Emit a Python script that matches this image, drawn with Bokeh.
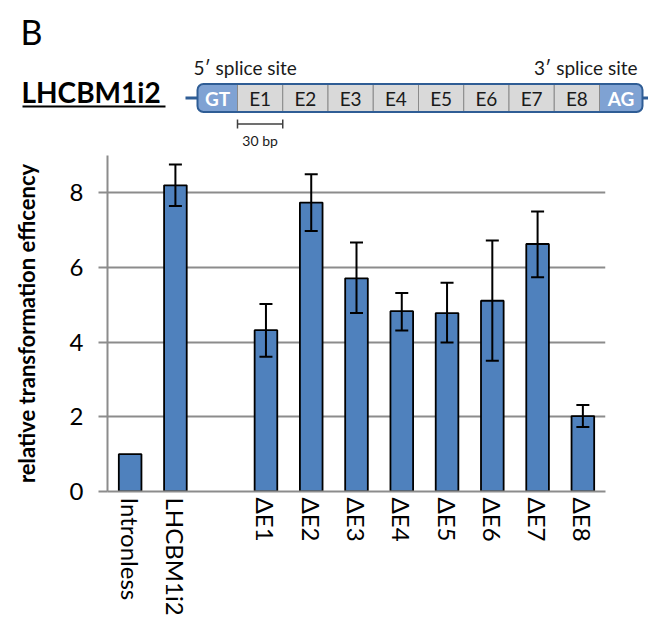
from bokeh.plotting import figure
from bokeh.models import ColumnDataSource, FactorRange, Range1d, FixedTicker, Whisker, TeeHead
from bokeh.layouts import column
from bokeh.core.properties import value
from bokeh.embed import file_html
from bokeh.resources import INLINE

# ---------------- data ----------------
categories = ["Intronless", "LHCBM1i2", " ", "ΔE1", "ΔE2", "ΔE3", "ΔE4",
              "ΔE5", "ΔE6", "ΔE7", "ΔE8"]
bar_labels = ["Intronless", "LHCBM1i2", "ΔE1", "ΔE2", "ΔE3", "ΔE4",
              "ΔE5", "ΔE6", "ΔE7", "ΔE8"]
values = [1.0, 8.2, 4.32, 7.74, 5.71, 4.83, 4.78, 5.11, 6.63, 2.02]
err_labels = ["LHCBM1i2", "ΔE1", "ΔE2", "ΔE3", "ΔE4", "ΔE5", "ΔE6", "ΔE7", "ΔE8"]
err_high = [8.76, 5.02, 8.50, 6.67, 5.32, 5.59, 6.72, 7.50, 2.32]
err_low = [7.65, 3.61, 6.98, 4.78, 4.31, 3.99, 3.50, 5.74, 1.73]
y_ticks = [0, 2, 4, 6, 8]

panel_letter = "B"
construct_name = "LHCBM1i2"
segment_labels = ["GT", "E1", "E2", "E3", "E4", "E5", "E6", "E7", "E8", "AG"]
site_labels = ["5\u2032 splice site", "3\u2032 splice site"]
scale_label = "30 bp"
y_title = "relative transformation efficency"

FONT = "Lato"
BAR = "#4f81bd"
GRID = "#8c8c8c"
DARKBLUE = "#2f5d95"
LIGHTBLUE = "#7fa2d3"
EXON = "#d9d9d9"

# ---------------- top panel (gene diagram) ----------------
W = 648
TOP_H = 155
top = figure(width=W, height=TOP_H, x_range=Range1d(0, W), y_range=Range1d(TOP_H, 0),
             output_backend="svg", toolbar_location=None, min_border=0)
top.frame_align = False
top.axis.visible = False
top.grid.visible = False
top.outline_line_color = None

box_left, box_right = 197.0, 642.0
box_top, box_bot = 83.5, 111.5
mid_y = (box_top + box_bot) / 2
gt_w, ag_w = 40.0, 43.0
exon_w = (box_right - box_left - gt_w - ag_w) / 8

lefts, rights = [], []
x = box_left
for lab in segment_labels:
    w = gt_w if lab == "GT" else (ag_w if lab == "AG" else exon_w)
    lefts.append(x)
    rights.append(x + w)
    x += w

# backbone line
top.segment(x0=[185], y0=[mid_y], x1=[W], y1=[mid_y], line_color=DARKBLUE, line_width=3)
# outer rounded box with light blue fill
top.quad(left=[box_left], right=[box_right], top=[box_top], bottom=[box_bot],
         fill_color=LIGHTBLUE, line_color=None, border_radius=6)
# exon cells
ex_idx = [i for i, l in enumerate(segment_labels) if l not in ("GT", "AG")]
top.quad(left=[lefts[i] for i in ex_idx], right=[rights[i] for i in ex_idx],
         top=[box_top] * len(ex_idx), bottom=[box_bot] * len(ex_idx),
         fill_color=EXON, line_color="#8a8a8a", line_width=1)
# outline
top.quad(left=[box_left], right=[box_right], top=[box_top], bottom=[box_bot],
         fill_color=None, line_color=DARKBLUE, line_width=2, border_radius=6)

centers = [(a + b) / 2 for a, b in zip(lefts, rights)]
ex_src = ColumnDataSource(dict(x=[centers[i] for i in ex_idx], y=[mid_y] * len(ex_idx),
                               t=[segment_labels[i] for i in ex_idx]))
top.text(x="x", y="y", text="t", source=ex_src, text_font=value(FONT), text_font_size="19px",
         text_color="#1a1a1a", text_align="center", text_baseline="middle")
ss_idx = [i for i, l in enumerate(segment_labels) if l in ("GT", "AG")]
ss_src = ColumnDataSource(dict(x=[centers[i] for i in ss_idx], y=[mid_y] * len(ss_idx),
                               t=[segment_labels[i] for i in ss_idx]))
top.text(x="x", y="y", text="t", source=ss_src, text_font=value(FONT), text_font_size="19px",
         text_font_style="bold", text_color="white", text_align="center", text_baseline="middle")

# splice site labels
top.text(x=[193], y=[67], text=[site_labels[0]], text_font=value(FONT), text_font_size="19px",
         text_color="#1a1a1a", text_align="left", text_baseline="middle")
top.text(x=[637], y=[67], text=[site_labels[1]], text_font=value(FONT), text_font_size="19px",
         text_color="#1a1a1a", text_align="right", text_baseline="middle")

# panel letter and construct name
top.text(x=[20], y=[31], text=[panel_letter], text_font=value(FONT), text_font_size="34px",
         text_color="black", text_align="left", text_baseline="middle")
top.text(x=[21], y=[91], text=[construct_name], text_font=value(FONT), text_font_size="28px",
         text_font_style="bold", text_color="black", text_align="left", text_baseline="middle")
top.segment(x0=[22], y0=[106], x1=[165], y1=[106], line_color="black", line_width=2)

# scale bar (width of one exon cell)
sb_l, sb_r = lefts[1], rights[1]
top.segment(x0=[sb_l], y0=[123.5], x1=[sb_r], y1=[123.5], line_color="#404040", line_width=1.5)
top.segment(x0=[sb_l, sb_r], y0=[119, 119], x1=[sb_l, sb_r], y1=[128, 128],
            line_color="#404040", line_width=1.5)
top.text(x=[(sb_l + sb_r) / 2], y=[140], text=[scale_label], text_font=value(FONT),
         text_font_size="14px", text_color="#1a1a1a", text_align="center", text_baseline="middle")

# ---------------- bar chart ----------------
p = figure(width=W, height=620 - TOP_H, x_range=FactorRange(*categories), y_range=Range1d(0, 9),
           output_backend="svg", toolbar_location=None,
           min_border_left=107, min_border_right=43, min_border_top=0, min_border_bottom=129)
p.frame_align = False
p.outline_line_color = None
p.background_fill_color = "white"

src = ColumnDataSource(dict(x=bar_labels, top=values))
p.vbar(x="x", top="top", bottom=0, width=0.5, source=src, fill_color=BAR,
       line_color="black", line_width=1.8)

esrc = ColumnDataSource(dict(x=err_labels, upper=err_high, lower=err_low))
wh = Whisker(base="x", upper="upper", lower="lower", source=esrc, level="overlay",
             line_color="black", line_width=2,
             upper_head=TeeHead(size=13, line_color="black", line_width=2),
             lower_head=TeeHead(size=13, line_color="black", line_width=2))
p.add_layout(wh)

p.xgrid.grid_line_color = None
p.ygrid.ticker = FixedTicker(ticks=y_ticks)
p.ygrid.grid_line_color = GRID
p.ygrid.grid_line_width = 2
p.ygrid.level = "underlay"

p.yaxis.ticker = FixedTicker(ticks=y_ticks)
p.yaxis.axis_line_color = GRID
p.yaxis.axis_line_width = 2
p.yaxis.major_tick_line_color = GRID
p.yaxis.major_tick_line_width = 2
p.yaxis.major_tick_out = 9
p.yaxis.major_tick_in = 0
p.yaxis.minor_tick_line_color = None
p.yaxis.major_label_standoff = 15
p.yaxis.major_label_text_font = FONT
p.yaxis.major_label_text_font_size = "24px"
p.yaxis.major_label_text_color = "black"
p.yaxis.axis_label = y_title
p.yaxis.axis_label_text_font = FONT
p.yaxis.axis_label_text_font_size = "22px"
p.yaxis.axis_label_text_font_style = "bold"
p.yaxis.axis_label_text_color = "black"
p.yaxis.axis_label_standoff = 27

p.xaxis.axis_line_color = GRID
p.xaxis.axis_line_width = 2
p.xaxis.major_tick_line_color = None
p.xaxis.major_tick_out = 0
p.xaxis.major_tick_in = 0
p.xaxis.minor_tick_line_color = None
p.xaxis.major_label_orientation = "vertical"
p.xaxis.major_label_standoff = 6
p.xaxis.major_label_text_font = FONT
p.xaxis.major_label_text_font_size = "24px"
p.xaxis.major_label_text_color = "black"

layout = column(top, p, spacing=0)
open("out.html", "w").write(file_html(layout, INLINE))
